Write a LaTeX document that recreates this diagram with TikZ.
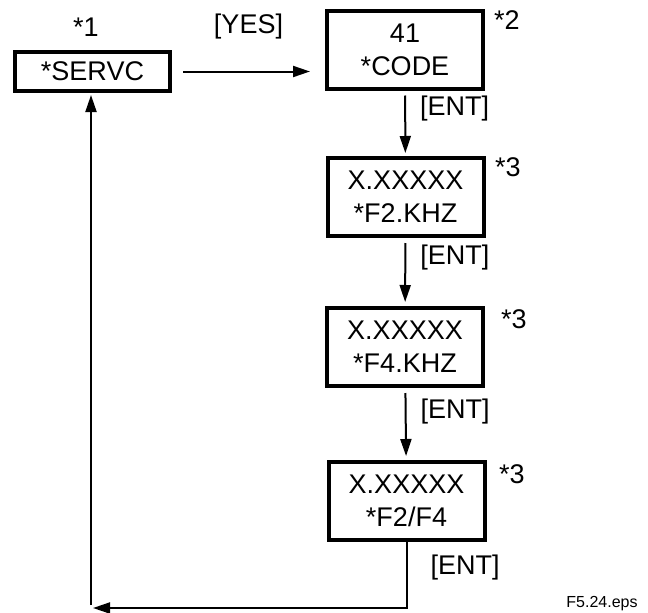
\documentclass[tikz,border=0pt]{standalone}
\usepackage{fontspec}
\setmainfont{Liberation Sans}
\usetikzlibrary{positioning,arrows.meta}

\begin{document}
\begin{tikzpicture}[x=1pt,y=-1pt,
  every node/.style={font=\fontsize{27}{33}\selectfont,align=center},
  disp/.style ={rectangle,draw=black,line width=4pt,minimum width=156pt,
                minimum height=78pt,inner sep=2pt},
  sdisp/.style={disp,minimum width=155pt,minimum height=39pt},
  arr/.style  ={-{Triangle[length=17pt,width=11pt]},line width=2pt,black},
  lab/.style  ={inner sep=1pt},
  note/.style ={inner sep=1pt},
]
\useasboundingbox (0,0) rectangle (648,613);

\node[sdisp] at (92.5,71.5) (servc)  {*SERVC};
\node[disp]  at (405,49.5)  (code)   {41\\*CODE};
\node[disp]  at (405.5,197) (ftwo)   {X.XXXXX\\*F2.KHZ};
\node[disp]  at (405,347)   (ffour)  {X.XXXXX\\*F4.KHZ};
\node[disp]  at (406.5,501) (fratio) {X.XXXXX\\*F2/F4};

\node[note] at (86,27)   (n1)  {*1};
\node[note] at (507,20)  (n2)  {*2};
\node[note] at (508,167) (n3a) {*3};
\node[note] at (514,319) (n3b) {*3};
\node[note] at (512,474) (n3c) {*3};

\node[font=\fontsize{16}{19}\selectfont] at (602,604) (fname) {F5.24.eps};

\coordinate (ret)   at (93,608);
\coordinate (retup) at (91,605);

\draw[arr,shorten <=11pt,shorten >=15pt] (servc.east) --
  node[lab,midway,above=30pt]{[YES]} (servc.east -| code.west);
\draw[arr,shorten <=5pt,shorten >=3pt] (code) --
  node[lab,anchor=west,pos=0.28,xshift=13pt]{[ENT]} (ftwo);
\draw[arr,shorten <=5pt,shorten >=4pt] (ftwo) --
  node[lab,anchor=west,pos=0.28,xshift=13pt]{[ENT]} (ffour);
\draw[arr,shorten <=5pt,shorten >=4pt] (ffour) --
  node[lab,anchor=west,pos=0.33,xshift=13pt]{[ENT]} (fratio);
\draw[arr] (fratio.south) |-
  node[lab,anchor=west,pos=0.19,xshift=22pt]{[ENT]} (ret);
\draw[arr,shorten >=2pt] (retup) -- (retup |- servc.south);
\end{tikzpicture}
\end{document}
